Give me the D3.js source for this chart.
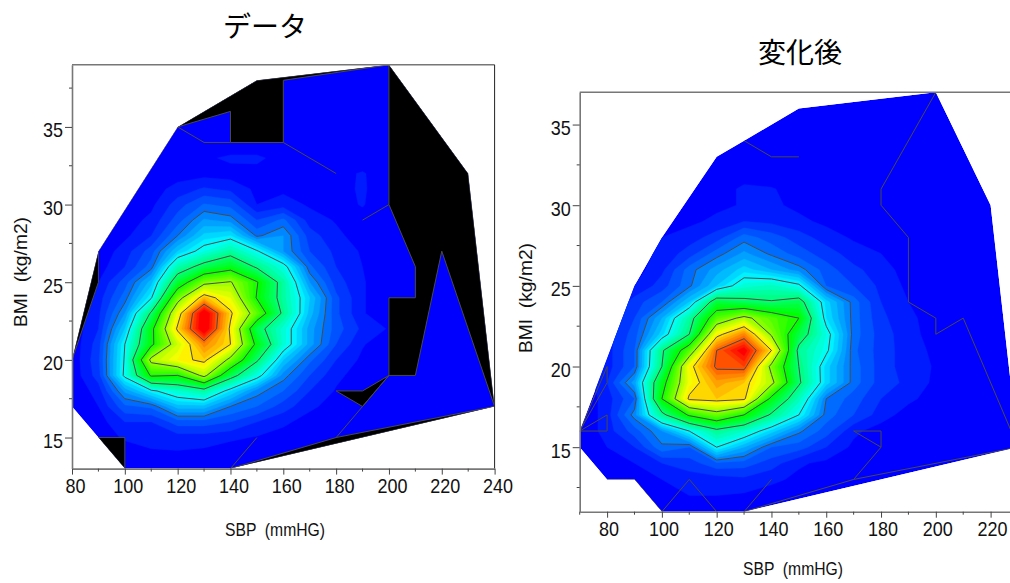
<!DOCTYPE html>
<html><head><meta charset="utf-8">
<script src="https://d3js.org/d3.v7.min.js"></script>
<style>html,body{margin:0;padding:0;background:#fff;overflow:hidden}svg{display:block}</style>
</head><body><svg id="c" width="1010" height="583"></svg>
<script>
// Surface values, rows from the top BMI to the bottom BMI; columns SBP step 10.
const leftSbp = d3.range(80, 241, 10);
const leftBmi = d3.range(39, 12, -1);
const leftRows = [
[0,0,0,0,0,0,0,0,0,0,0,0,0,0,0,0,0],
[0,0,0,0,0,0,0,0,0,0,0,0,0,0,0,0,0],
[0,0,0,0,0,0,0,0,0,0,0,0,0,0,0,0,0],
[0,0,0,0,0,0,0,0,0,0,0,0,0,0,0,0,0],
[0,0,0,0,0,0,0,0,0,0,0,0,0,0,0,0,0],
[0,0,0,0,0,.5,0,0,0,0,0,0,0,0,0,0,0],
[0,0,0,0,1,1.5,2.5,2.5,1,0,0,0,0,0,0,0,0],
[0,0,0,0,1,1.2,1,1.2,1,1,1,2.3,0,0,0,0,0],
[0,0,0,1,2.8,4.3,3.5,1.5,1.5,1,1,2.4,0,0,0,0,0],
[0,0,1,1.5,5,8.2,7.3,2,3,1.7,1,2.2,0,0,0,0,0],
[0,0,1,2.5,7,12.3,11,6,8.5,3,1.8,1,0,0,0,0,0],
[0,0,1.5,4,10,16.6,18,9.5,12,5,2.5,1,0,0,0,0,0],
[0,.5,3,7,16,22,27,20.5,12,6,3.5,1.7,0,0,0,0,0],
[0,1,4,9,25.7,32.7,37,29,22,8.5,4,2,.5,0,0,0,0],
[0,2,7,15,35,48,50.5,40.5,27,12,5,2.2,.5,0,0,0,0],
[0,3,9,19.5,47,63,56,39.5,27,16,6.5,2.2,.5,0,0,0,0],
[.5,3.5,12,31,57,80,61,46,28.5,15,6.5,2.2,.5,0,0,0,0],
[.5,4,16,38,61,80,59,33,23,13,7,3.5,1.8,0,0,0,0],
[.5,5,20,38.5,54,67,60,38,23,13,6,2.2,.5,0,0,0,0],
[.5,5.5,20.5,52,58,61.5,48,31,16,8.5,4,1.5,0,0,0,0,0],
[.5,5,21,41,40,52,33,22,11,6,2.5,1,0,0,0,0,0],
[0,3,12.5,19,23.5,27,18,11,8,4,1.8,.5,0,0,0,0,0],
[0,2,7.5,8.5,15,15,10,8,5,2.5,1,0,0,0,0,0,0],
[0,1,4,4,7,7,6,4,2.5,1,0,0,0,0,0,0,0],
[0,0,2.5,2.5,3,3,2.5,1.8,1,0,0,0,0,0,0,0,0],
[0,0,0,1.8,1.8,1.5,.5,0,0,0,0,0,0,0,0,0,0],
[0,0,0,0,0,0,0,0,0,0,0,0,0,0,0,0,0]
];
const rightSbp = d3.range(70, 231, 10);
const rightBmi = d3.range(37, 10, -1);
const rightRows = [
[0,0,0,0,0,0,0,0,0,0,0,0,0,0,0,0,0],
[0,0,0,0,0,0,0,0,0,0,0,0,0,0,0,0,0],
[0,0,0,0,0,0,0,0,0,0,0,0,0,0,0,0,0],
[0,0,0,0,0,0,0,0,0,0,0,0,0,0,0,0,0],
[0,0,0,0,0,0,0,0,0,0,0,0,0,0,0,0,0],
[0,0,0,0,0,.5,1,.5,0,0,0,0,0,0,0,0,0],
[0,0,0,0,0,1,2.4,2.2,1,0,0,0,0,0,0,0,0],
[0,0,0,0,1,1.5,2.2,2.4,1.5,1,0,0,0,0,0,0,0],
[0,0,0,1,1.5,2.5,4,3.5,2.5,1.5,1,0,0,0,0,0,0],
[0,0,0,2,3,5,9,7,5,3,1.7,1,0,0,0,0,0],
[0,0,1,2.5,5,9,12.5,9.5,7,5,3,2,1,0,0,0,0],
[0,0,1,3.5,9,13,17,14,11,7,4.5,3,1,0,0,0,0],
[0,0,2,5,9.5,16,23,24.5,21,8,6,3.5,1.5,0,0,0,0],
[0,1,5,8,16,34.5,32,30.5,33,17,9,4,2,1,0,0,0],
[0,2,6,14,27,45,52,45,40,18,9,4.5,2.5,1,0,0,0],
[0,3,7,17,30,58,67,49,34,22,9,5,2.8,1,0,0,0],
[0,3,8,29,45,70,78,60,28,21,8.5,5,3,1.5,0,0,0],
[0,3,8,30,58,71,72,48,30,17,9,5,3,1.8,0,0,0],
[0,4,13,37,57,65,62,52,31,17,9,5,3.5,1.5,0,0,0],
[0,3,8,40,61,62,61,38,25,10,7,4,2.5,1,0,0,0],
[0,3,11,28,41,47,40,29,20,9,6,3,1,0,0,0,0],
[0,3,7,12,20,28,24,17,10.5,7,2.5,1,0,0,0,0,0],
[0,2,4,9.5,8,20,14,8,7,4,1.5,0,0,0,0,0,0],
[0,0,2,4,5,7.5,7,5,2.3,1.5,.5,0,0,0,0,0,0],
[0,0,1,2,3,3,3.5,2.5,1.5,0,0,0,0,0,0,0,0],
[0,0,0,1.7,2,2,1.7,1,0,0,0,0,0,0,0,0,0],
[0,0,0,0,0,0,0,0,0,0,0,0,0,0,0,0,0]
];
// Data-domain outlines as [SBP, BMI]
const leftHull = [[80,17],[80,20],[90,27],[120,35],[150,38],[200,39],[230,32],[240,17],[140,13],[100,13]];
const leftMissing = [
  [[120,35],[150,38],[200,39],[160,38],[160,34],[140,34],[140,36]],
  [[200,39],[230,32],[240,17],[220,27],[210,19],[200,19],[200,24],[210,24],[210,26],[200,30]],
  [[180,18],[190,18],[200,19],[190,17]],
  [[140,13],[180,15],[240,17]],
  [[90,15],[100,15],[100,13]],
  [[80,20],[90,27],[90,25]]
];
const leftZeroLines = [
  [[90,27],[120,35],[130,34],[140,34]],
  [[160,34],[180,32]],
  [[200,30],[190,29]],
  [[140,13],[150,15]],
  [[200,19],[190,17],[180,15]]
];
const rightHull = [[70,15],[70,16],[90,25],[100,28],[120,33],[130,34],[150,36],[200,37],[220,30],[230,15],[130,11],[100,11],[90,13],[80,13]];
const rightMissing = [];
const rightZeroLines = [
  [[130,34],[140,33],[150,33]],
  [[200,37],[180,31],[180,30],[190,28],[190,24],[200,23],[200,22],[210,23],[230,15]],
  [[70,16],[80,20],[80,19],[70,16]],
  [[70,16],[80,17],[80,16],[70,16]],
  [[130,11],[170,13],[230,15]],
  [[170,13],[180,15],[180,16],[170,16],[180,15]],
  [[80,13],[90,13],[100,11],[110,13],[120,11]],
  [[130,11],[140,13]]
];
const leftXTicks = d3.range(80, 241, 20), leftXMinor = d3.range(90, 240, 20);
const leftYTicks = [15,20,25,30,35], leftYMinor = [17.5,22.5,27.5,32.5,37.5];
const rightXTicks = d3.range(80, 221, 20), rightXMinor = d3.range(70, 231, 20);
const rightYTicks = [15,20,25,30,35], rightYMinor = [12.5,17.5,22.5,27.5,32.5];
const bandStep = 2, topLevel = 80;
const lineLevels = [10,20,30,40,50,60,70];

const colour = d3.scaleLinear().domain([0,19,38,57,76]).range(["#0000ff","#00ffff","#00ff00","#ffff00","#ff0000"]).clamp(true);
const svg = d3.select("#c");
const FONT = "'Liberation Sans',sans-serif";
let uid = 0;

function fitted(sel, w){ // narrow half-width look of the original labels
  sel.attr("textLength", function(){ return this.textContent.length * w; }).attr("lengthAdjust", "spacingAndGlyphs");
}

function panel(o){
  const x = d3.scaleLinear().domain(o.xDomain).range(o.xRange);
  const y = d3.scaleLinear().domain(o.yDomain).range(o.yRange);
  const g = svg.append("g");
  const id = "hull" + (uid++);
  const outline = d3.line().x(d => x(d[0])).y(d => y(d[1]));
  g.append("clipPath").attr("id", id).append("path").attr("d", outline(o.hull) + "Z");
  const plot = g.append("g").attr("clip-path", `url(#${id})`);
  plot.append("path").attr("d", outline(o.hull) + "Z").attr("fill", colour(0));

  const n = o.sbp.length, m = o.bmi.length;
  const flat = o.rows.flat();
  const stepX = o.sbp[1] - o.sbp[0], stepY = o.bmi[0] - o.bmi[1];
  const path = d3.geoPath(d3.geoTransform({point(px, py){
    this.stream.point(x(o.sbp[0] + (px - .5) * stepX), y(o.bmi[0] - (py - .5) * stepY));
  }}));
  const maker = d3.contours().size([n, m]).smooth(true);
  const bands = d3.range(bandStep, topLevel, bandStep);
  plot.selectAll("path.band").data(maker.thresholds(bands)(flat)).join("path")
    .attr("class", "band").attr("d", path).attr("fill", d => colour(d.value)).attr("stroke", d => colour(d.value)).attr("stroke-width", .4);
  plot.selectAll("path.missing").data(o.missing).join("path")
    .attr("class", "missing").attr("d", d => outline(d) + "Z").attr("fill", "#000").attr("stroke", "#4a4a4a").attr("stroke-width", 1);
  plot.selectAll("path.level").data(maker.thresholds(lineLevels)(flat)).join("path")
    .attr("class", "level").attr("d", path).attr("fill", "none").attr("stroke", "#4a4a4a").attr("stroke-width", 1);
  plot.selectAll("path.zero").data(o.zeroLines).join("path")
    .attr("class", "zero").attr("d", outline).attr("fill", "none").attr("stroke", "#4a4a4a").attr("stroke-width", 1);

  // frame
  g.append("line").attr("x1", o.xRange[0]).attr("x2", o.xRange[1]).attr("y1", o.yRange[1]).attr("y2", o.yRange[1]).attr("stroke", "#777").attr("stroke-width", 1.4);
  if (o.rightEdge) g.append("line").attr("x1", o.xRange[1]).attr("x2", o.xRange[1]).attr("y1", o.yRange[0]).attr("y2", o.yRange[1]).attr("stroke", "#222");

  // axes
  const style = a => { a.selectAll("path,line").attr("stroke", "#444"); a.select(".domain").attr("stroke", "#777").attr("stroke-width", 1.6); };
  const xa = g.append("g").attr("transform", `translate(0,${o.yRange[0]})`)
    .call(d3.axisBottom(x).tickValues(o.xTicks).tickSize(6).tickSizeOuter(0).tickPadding(8).tickFormat(d3.format("d"))).call(style);
  xa.selectAll("text").attr("font-family", FONT).attr("font-size", 21).attr("fill", "#111").attr("dx", o.tickDx).attr("dy", 10).call(fitted, 10);
  g.append("g").selectAll("line").data(o.xMinor).join("line")
    .attr("x1", d => x(d)).attr("x2", d => x(d)).attr("y1", o.yRange[0]).attr("y2", o.yRange[0] + 3).attr("stroke", "#444");
  const ya = g.append("g").attr("transform", `translate(${o.xRange[0]},0)`)
    .call(d3.axisLeft(y).tickValues(o.yTicks).tickSize(7).tickSizeOuter(0).tickPadding(2).tickFormat(d3.format("d"))).call(style);
  ya.selectAll("text").attr("font-family", FONT).attr("font-size", 21).attr("fill", "#111").attr("dy", 10).attr("dx", 0).call(fitted, 10);
  g.append("g").selectAll("line").data(o.yMinor).join("line")
    .attr("x1", o.xRange[0] - 3).attr("x2", o.xRange[0]).attr("y1", d => y(d)).attr("y2", d => y(d)).attr("stroke", "#444");

  // titles
  g.append("text").text(o.title).attr("x", o.titlePos[0]).attr("y", o.titlePos[1]).attr("text-anchor", "middle")
    .attr("font-family", "'Noto Sans CJK JP',sans-serif").attr("font-size", 28).attr("fill", "#000");
  g.append("text").text("SBP  (mmHG)").style("white-space", "pre").attr("x", o.xLabel[0]).attr("y", o.xLabel[1]).attr("text-anchor", "middle")
    .attr("font-family", FONT).attr("font-size", 18).attr("fill", "#111").attr("textLength", 100).attr("lengthAdjust", "spacingAndGlyphs");
  g.append("text").text("BMI  (kg/m2)").style("white-space", "pre")
    .attr("transform", `translate(${o.yLabel[0]},${o.yLabel[1]}) rotate(-90)`).attr("text-anchor", "middle")
    .attr("font-family", FONT).attr("font-size", 18).attr("fill", "#111").attr("textLength", 110).attr("lengthAdjust", "spacingAndGlyphs");
}

panel({ sbp:leftSbp, bmi:leftBmi, rows:leftRows, hull:leftHull, missing:leftMissing, zeroLines:leftZeroLines,
  xDomain:[80,240], xRange:[72,494.6], yDomain:[13,39], yRange:[468.6,64.8], rightEdge:true, tickDx:3,
  xTicks:leftXTicks, xMinor:leftXMinor, yTicks:leftYTicks, yMinor:leftYMinor,
  title:"データ", titlePos:[265,37], xLabel:[275,536], yLabel:[27,272] });
panel({ sbp:rightSbp, bmi:rightBmi, rows:rightRows, hull:rightHull, missing:rightMissing, zeroLines:rightZeroLines,
  xDomain:[70,230], xRange:[579.7,1018], yDomain:[11,37], yRange:[511.7,92.3], rightEdge:false, tickDx:1.5,
  xTicks:rightXTicks, xMinor:rightXMinor, yTicks:rightYTicks, yMinor:rightYMinor,
  title:"変化後", titlePos:[800,63], xLabel:[793,575], yLabel:[532,298] });
</script></body></html>
